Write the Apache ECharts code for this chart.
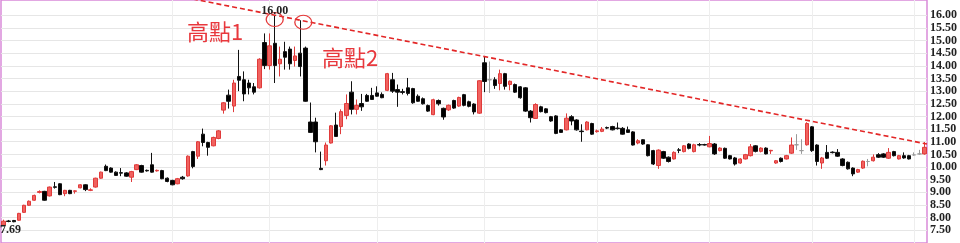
<!DOCTYPE html>
<html>
<head>
<meta charset="utf-8">
<script src="https://cdn.jsdelivr.net/npm/echarts@6/dist/echarts.min.js"></script>
<style>
html,body{margin:0;padding:0;background:#fff;}
#main{width:960px;height:243px;}
</style>
</head>
<body>
<div id="main"></div>
<script>
// ---- data ----
const openV = [
7.70,7.87,7.89,7.90,8.21,8.49,8.69,9.00,9.04,8.86,
9.22,9.34,8.95,9.08,9.04,9.18,9.30,9.08,9.21,9.56,
10.03,9.96,9.80,9.78,9.77,9.60,9.90,10.06,9.87,10.09,
9.85,9.86,9.56,9.47,9.34,9.60,9.65,10.61,10.43,11.30,
10.97,10.84,11.13,12.25,12.84,12.41,13.58,13.45,13.32,13.17,
13.13,14.92,14.01,14.89,14.08,14.56,14.66,14.21,14.50,14.70,
11.78,11.78,9.95,10.25,10.95,11.66,11.60,12.04,12.96,12.28,
12.51,12.83,12.83,12.93,12.87,13.03,13.45,13.06,12.98,13.13,
13.10,12.80,12.70,12.43,12.07,12.63,12.32,12.26,12.63,12.41,
12.86,12.58,12.49,12.13,14.12,13.45,13.45,13.30,13.69,13.26,
13.26,13.17,13.13,12.21,11.92,12.38,12.30,11.99,12.02,11.47,
11.47,11.99,11.86,11.42,11.47,11.72,11.40,11.41,11.56,11.60,
11.54,11.53,11.47,11.39,10.95,11.08,10.88,10.65,10.06,10.61,
10.39,10.32,10.68,10.61,10.91,10.61,10.89,10.89,10.80,10.91,
10.65,10.74,10.45,10.36,10.16,10.32,10.45,10.84,10.62,10.75,
10.64,10.16,10.35,10.32,10.55,10.88,10.65,10.88,11.59,10.87,
10.16,10.58,10.59,10.58,10.32,10.19,9.96,9.80,9.96,10.22,
10.25,10.49,10.52,10.35,10.61,10.32,10.45,10.45,10.48,10.52,
10.52];
const closeV = [
7.86,7.85,7.84,8.17,8.49,8.65,8.88,9.03,8.69,9.21,
9.20,8.91,9.08,8.95,9.06,9.30,9.11,9.10,9.56,9.80,
9.86,9.80,9.67,9.76,9.64,9.82,10.09,9.80,9.85,9.80,
9.87,9.54,9.43,9.30,9.54,9.54,10.43,10.02,11.00,10.97,
10.78,11.17,11.43,12.54,12.60,13.32,13.43,12.89,13.13,12.96,
14.26,14.01,14.79,14.01,14.26,14.34,14.08,14.39,13.97,12.60,
11.37,11.00,9.90,10.87,11.63,11.21,12.19,12.51,12.28,12.44,
12.38,12.60,12.67,12.80,12.74,13.69,13.00,12.96,12.95,12.91,
12.54,12.60,12.50,12.21,12.66,12.50,11.98,12.44,12.33,12.75,
12.44,12.40,12.18,13.41,13.38,13.45,13.22,13.69,13.19,13.39,
12.96,12.74,12.21,11.95,12.47,12.19,12.15,11.82,11.33,11.37,
11.93,11.82,11.47,11.40,11.78,11.30,11.43,11.50,11.54,11.47,
11.52,11.30,11.37,10.87,11.04,10.91,10.45,10.12,10.67,10.35,
10.22,10.58,10.66,10.84,10.74,10.88,10.87,10.87,10.93,10.52,
10.75,10.35,10.32,10.12,10.32,10.49,10.80,10.62,10.75,10.52,
10.66,10.25,10.22,10.45,10.87,10.88,10.65,11.72,10.65,10.22,
10.36,10.35,10.57,10.43,10.06,9.93,9.73,9.90,10.23,10.22,
10.39,10.39,10.39,10.58,10.45,10.45,10.36,10.32,10.48,10.52,
10.78];
const lowV = [
7.69,7.82,7.82,7.88,8.19,8.47,8.67,8.96,8.67,8.84,
9.15,8.89,8.85,8.93,8.95,9.16,9.05,9.05,9.19,9.54,
9.84,9.78,9.65,9.64,9.62,9.41,9.88,9.78,9.82,9.78,
9.82,9.52,9.40,9.28,9.32,9.50,9.62,9.95,10.32,10.82,
10.45,10.82,11.10,12.11,12.31,12.17,13.00,12.60,12.87,12.87,
13.10,13.87,13.85,13.32,13.58,13.85,13.85,13.97,13.58,12.58,
11.35,10.58,9.88,10.06,10.93,11.21,11.30,11.89,12.08,12.08,
12.22,12.58,12.65,12.78,12.72,13.00,12.93,12.38,12.87,12.83,
12.50,12.58,12.47,12.18,12.05,12.43,11.87,12.22,12.30,12.38,
12.40,12.36,12.08,12.10,12.96,12.93,13.09,13.03,13.06,13.03,
12.93,12.70,12.18,11.76,11.90,12.16,12.12,11.79,11.30,11.35,
11.45,11.65,11.44,11.00,11.45,11.27,11.36,11.38,11.50,11.45,
11.48,11.28,11.35,10.85,10.90,10.88,10.42,10.08,9.93,10.32,
10.18,10.30,10.55,10.58,10.70,10.58,10.82,10.85,10.78,10.48,
10.62,10.32,10.30,10.06,10.13,10.30,10.42,10.58,10.58,10.50,
10.52,10.13,10.18,10.30,10.52,10.68,10.52,10.85,10.60,10.06,
9.93,10.32,10.54,10.40,10.03,9.90,9.64,9.77,9.93,10.03,
10.22,10.36,10.36,10.32,10.42,10.30,10.33,10.30,10.45,10.49,
10.49];
const highV = [
7.92,7.91,7.91,8.19,8.51,8.68,8.91,9.08,9.06,9.23,
9.41,9.36,9.10,9.10,9.08,9.32,9.32,9.16,9.58,9.82,
10.10,9.99,9.83,9.96,9.80,9.85,10.12,10.09,9.90,10.56,
9.90,9.89,9.59,9.50,9.57,9.65,10.46,10.64,11.03,11.52,
11.00,11.20,11.46,12.57,13.06,13.45,14.63,13.78,13.45,13.32,
14.30,15.28,15.28,16.00,14.76,14.95,14.76,14.76,15.80,14.76,
12.55,11.95,10.61,10.97,11.66,12.15,12.28,12.87,13.39,12.67,
12.89,12.89,13.13,13.19,12.95,13.72,13.72,13.26,13.09,13.52,
13.13,12.87,12.75,12.47,12.70,12.67,12.35,12.47,12.66,12.78,
12.89,12.62,12.52,13.43,14.37,14.17,13.55,13.85,13.72,13.42,
13.30,13.20,13.16,12.25,12.52,12.42,12.33,12.02,12.05,11.50,
12.12,12.05,11.89,11.69,11.81,11.75,11.48,11.58,11.60,11.63,
11.76,11.58,11.60,11.42,11.10,11.10,10.90,10.68,10.70,10.64,
10.42,10.62,10.75,10.87,10.94,10.92,10.95,10.92,11.23,10.95,
10.78,10.77,10.48,10.40,10.35,10.52,10.91,10.87,10.78,10.78,
10.68,10.28,10.38,10.48,11.17,11.30,11.10,11.77,11.62,10.90,
10.40,10.87,10.62,10.71,10.35,10.22,9.99,9.93,10.26,10.32,
10.50,10.55,10.55,10.75,10.64,10.48,10.58,10.48,10.58,10.68,
10.99];
const categories = openV.map((_, i) => 'D' + (i + 1));
const yTickLabels = [7.5,8,8.5,9,9.5,10,10.5,11,11.5,12,12.5,13,13.5,14,14.5,15,15.5,16];
const monthStartIdx = [33, 52, 73, 94, 116, 138, 158, 178];
// resistance line through the two highs (x = day index, y = price)
const trendX = [37, 180.5];
const trendY = [16.64, 10.91];
const annoTexts = ['高點1', '高點2'];

// ---- chart ----
const candleData = openV.map((o, i) => [o, closeV[i], lowV[i], highV[i]]);
const gridLineStyle = {color: '#e6e6e6', width: 1, type: 'solid'};
const markLineData = yTickLabels.map(v => ({yAxis: v}))
  .concat(monthStartIdx.map(i => ({xAxis: categories[i], lineStyle: {color: '#eeeeee', width: 1, type: 'solid'}})));
const circleStyle = {color: 'rgba(0,0,0,0)', borderColor: '#e53a3a', borderWidth: 1.2};
const valLabel = {fontFamily: 'Liberation Serif', fontWeight: 'bold', fontSize: 12, color: '#222'};

const chart = echarts.init(document.getElementById('main'), null, {renderer: 'canvas'});
chart.setOption({
  animation: false,
  backgroundColor: '#ffffff',
  grid: {left: 1, right: 31, top: 0, bottom: -2, show: true, backgroundColor: '#fff', borderColor: '#d98ad9', borderWidth: 1.5},
  xAxis: [
    {type: 'category', data: categories, boundaryGap: true,
     axisLine: {show: false}, axisTick: {show: false}, axisLabel: {show: false}, splitLine: {show: false}},
    {type: 'value', min: -0.5, max: categories.length - 0.5, show: false}
  ],
  yAxis: {
    type: 'value', position: 'right', min: 7, max: 16.6, interval: 0.5, scale: true,
    axisLine: {show: false}, axisTick: {show: false}, splitLine: {show: false},
    axisLabel: Object.assign({margin: 3, formatter: v => (v >= 7.5 && v <= 16.001) ? v.toFixed(2) : ''}, valLabel)
  },
  graphic: [
    {type: 'text', x: 215, y: 32, z: 10, style: {text: annoTexts[0], fill: '#e8383d', font: '22px "Noto Sans CJK TC", sans-serif', align: 'center', verticalAlign: 'middle'}},
    {type: 'text', x: 350, y: 58, z: 10, style: {text: annoTexts[1], fill: '#e8383d', font: '22px "Noto Sans CJK TC", sans-serif', align: 'center', verticalAlign: 'middle'}}
  ],
  series: [
    {
      type: 'candlestick',
      data: candleData,
      barWidth: '76%',
      z: 2,
      itemStyle: {
        color: '#f0625f', borderColor: '#e03a3a',
        color0: '#000000', borderColor0: '#111111',
        borderColorDoji: '#9a9a9a', borderWidth: 1
      },
      markLine: {
        silent: true, z: 1, symbol: ['none', 'none'], animation: false,
        label: {show: false}, lineStyle: gridLineStyle, emphasis: {disabled: true},
        data: markLineData
      },
      markPoint: {
        silent: true, z: 6, animation: false,
        data: [
          {type: 'max', valueDim: 'highest', symbol: 'circle', symbolSize: 0,
           label: Object.assign({show: true, position: 'inside', offset: [0, -4], formatter: p => Number(p.value).toFixed(2)}, valLabel)},
          {type: 'min', valueDim: 'lowest', symbol: 'circle', symbolSize: 0,
           label: Object.assign({show: true, position: 'inside', offset: [7, 4], formatter: p => Number(p.value).toFixed(2)}, valLabel)},
          {coord: [categories[53], 15.83], symbol: 'circle', symbolSize: [17, 14], itemStyle: circleStyle, label: {show: false}},
          {coord: [categories[58], 15.72], symbol: 'circle', symbolSize: [17, 14], symbolOffset: [3, 0], itemStyle: circleStyle, label: {show: false}}
        ]
      }
    },
    {
      type: 'line', xAxisIndex: 1, yAxisIndex: 0, z: 5, silent: true,
      data: trendX.map((x, i) => [x, trendY[i]]),
      symbol: 'none',
      lineStyle: {color: '#e32626', width: 1.6, type: [5, 3]}
    }
  ]
});
</script>
</body>
</html>
